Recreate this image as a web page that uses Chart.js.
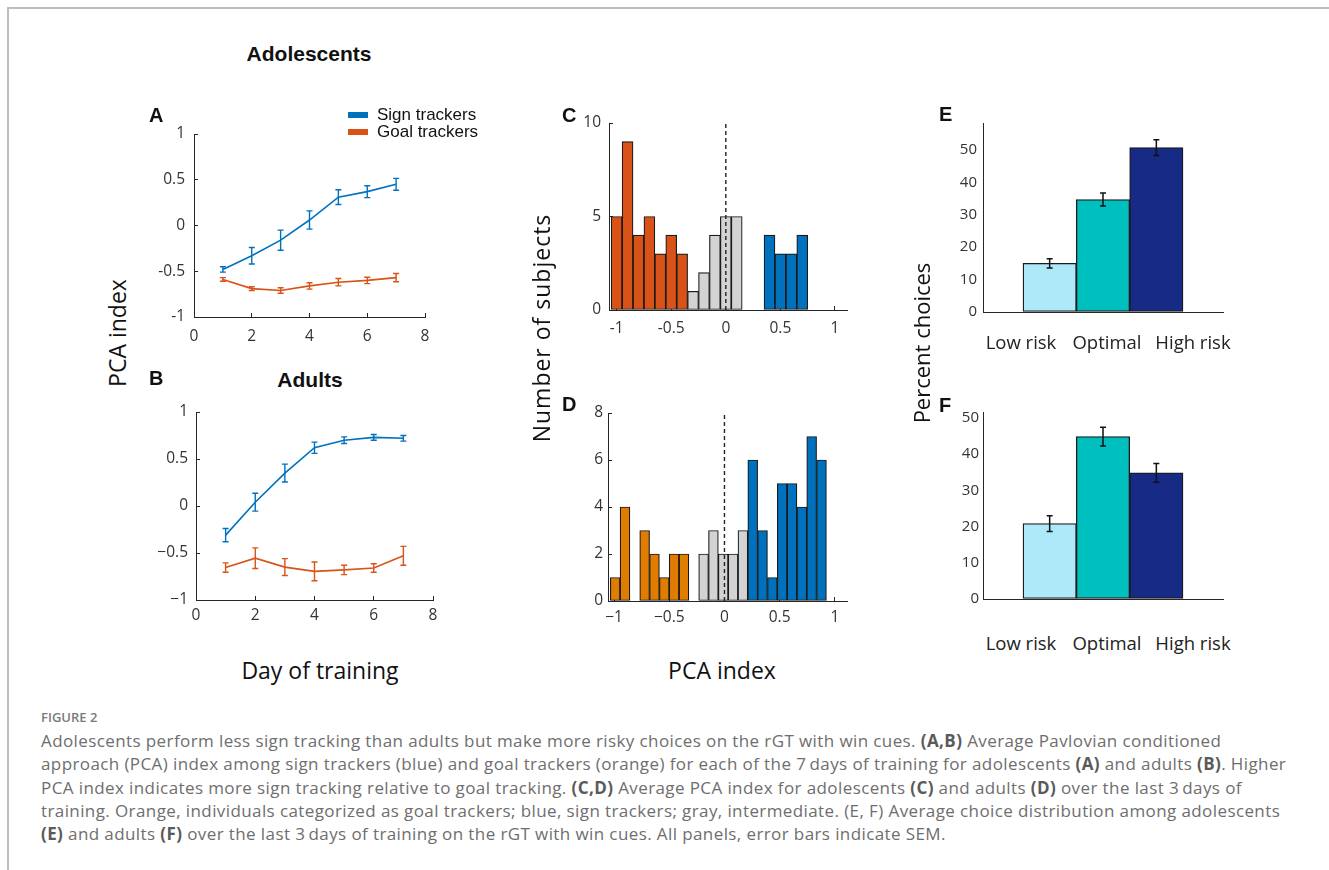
<!DOCTYPE html>
<html>
<head>
<meta charset="utf-8">
<script src="https://cdn.jsdelivr.net/npm/chart.js@4.4.1/dist/chart.umd.min.js"></script>
<style>
  html, body { margin: 0; padding: 0; background: #fff; }
  #page { position: relative; width: 1329px; height: 870px; overflow: hidden; }
  .frame { position: absolute; left: 7px; top: 7px; right: -2px; bottom: -2px; border-top: 2px solid #bdbdbd; border-left: 2px solid #bdbdbd; }
  .panel { position: absolute; }
  .t { position: absolute; white-space: nowrap; }
  .letter { font-family: 'Liberation Sans', Arial, sans-serif; font-weight: bold; font-size: 20px; color: #111; }
  .title { font-family: 'Liberation Sans', Arial, sans-serif; font-weight: bold; font-size: 21px; color: #111; transform: translate(-50%, -50%); }
  .axt { font-family: 'Open Sans', sans-serif; font-size: 23px; color: #111; transform: translate(-50%, -50%); }
  .axv { font-family: 'Open Sans', sans-serif; font-size: 23px; color: #111; transform: translate(-50%, -50%) rotate(-90deg); }
  .cat { font-family: 'Open Sans', sans-serif; font-size: 18.5px; color: #222; transform: translate(-50%, -50%); }
  .leg { font-family: 'Liberation Sans', Arial, sans-serif; font-size: 17px; color: #111; }
  .sw { position: absolute; width: 20px; height: 6px; }
  .cap { position: absolute; left: 41px; font-family: 'Open Sans', sans-serif; color: #6e6e6e; white-space: nowrap; }
  .cap b { color: #5a5a5a; }
  .line { font-size: 17px; letter-spacing: 0.4px; }
</style>
</head>
<body>
<div id="page">
  <div class="frame"></div>

  <div class="panel" style="left:140px;top:120px"><canvas id="chartA" width="295" height="227"></canvas></div>
  <div class="panel" style="left:140px;top:398px"><canvas id="chartB" width="303" height="232"></canvas></div>
  <div class="panel" style="left:560px;top:110px"><canvas id="chartC" width="297" height="230"></canvas></div>
  <div class="panel" style="left:560px;top:400px"><canvas id="chartD" width="297" height="231"></canvas></div>
  <div class="panel" style="left:930px;top:110px"><canvas id="chartE" width="303" height="222"></canvas></div>
  <div class="panel" style="left:930px;top:400px"><canvas id="chartF" width="303" height="219"></canvas></div>

  <div class="t title" style="left:309px;top:54px">Adolescents</div>
  <div class="t title" style="left:310px;top:380px">Adults</div>

  <div class="t letter" style="left:149px;top:104px">A</div>
  <div class="t letter" style="left:149px;top:367px">B</div>
  <div class="t letter" style="left:562px;top:104px">C</div>
  <div class="t letter" style="left:562px;top:393px">D</div>
  <div class="t letter" style="left:939px;top:103px">E</div>
  <div class="t letter" style="left:939px;top:394px">F</div>

  <div id="legend"></div>

  <div class="t axv" style="left:117px;top:333px">PCA index</div>
  <div class="t axt" style="left:320px;top:670px">Day of training</div>
  <div class="t axv" style="left:541px;top:328px;letter-spacing:1px">Number of subjects</div>
  <div class="t axt" style="left:722px;top:670px">PCA index</div>
  <div class="t axv" style="left:921px;top:343px;font-size:22px">Percent choices</div>

  <div id="catsE"></div>
  <div id="catsF"></div>

  <div class="cap" style="top:708px;font-size:13px;font-weight:600;color:#7a7a7a">FIGURE 2</div>
  <div class="cap line" style="top:729px">Adolescents perform less sign tracking than adults but make more risky choices on the rGT with win cues. <b>(A,B)</b> Average Pavlovian conditioned</div>
  <div class="cap line" style="top:752px">approach (PCA) index among sign trackers (blue) and goal trackers (orange) for each of the 7&thinsp;days of training for adolescents <b>(A)</b> and adults <b>(B)</b>. Higher</div>
  <div class="cap line" style="top:776px">PCA index indicates more sign tracking relative to goal tracking. <b>(C,D)</b> Average PCA index for adolescents <b>(C)</b> and adults <b>(D)</b> over the last 3&thinsp;days of</div>
  <div class="cap line" style="top:799px">training. Orange, individuals categorized as goal trackers; blue, sign trackers; gray, intermediate. (E, F) Average choice distribution among adolescents</div>
  <div class="cap line" style="top:822px"><b>(E)</b> and adults <b>(F)</b> over the last 3&thinsp;days of training on the rGT with win cues. All panels, error bars indicate SEM.</div>
</div>

<script>
// ---- data ----
const days = [1, 2, 3, 4, 5, 6, 7];
const seriesNames = ['Sign trackers', 'Goal trackers'];

const adolSign = [-0.48, -0.33, -0.16, 0.06, 0.31, 0.37, 0.45];
const adolSignErr = [0.03, 0.09, 0.11, 0.10, 0.08, 0.065, 0.065];
const adolGoal = [-0.59, -0.69, -0.71, -0.66, -0.62, -0.60, -0.57];
const adolGoalErr = [0.02, 0.02, 0.03, 0.035, 0.04, 0.035, 0.045];

const adultSign = [-0.31, 0.04, 0.35, 0.62, 0.70, 0.73, 0.72];
const adultSignErr = [0.07, 0.095, 0.095, 0.06, 0.035, 0.03, 0.03];
const adultGoal = [-0.655, -0.555, -0.65, -0.695, -0.68, -0.66, -0.53];
const adultGoalErr = [0.05, 0.11, 0.09, 0.10, 0.05, 0.045, 0.10];

// histograms of PCA index (bin centres, counts, group of each bin)
const adolBins = [-1.0, -0.9, -0.8, -0.7, -0.6, -0.5, -0.4, -0.3, -0.2, -0.1, 0.0, 0.1, 0.2, 0.3, 0.4, 0.5, 0.6, 0.7];
const adolCounts = [5, 9, 4, 5, 3, 4, 3, 1, 2, 4, 5, 5, 0, 0, 4, 3, 3, 4];
const adolGroups = ['goal', 'goal', 'goal', 'goal', 'goal', 'goal', 'goal', 'mid', 'mid', 'mid', 'mid', 'mid', 'mid', 'mid', 'sign', 'sign', 'sign', 'sign'];

const adultBins = [-0.99, -0.901, -0.812, -0.723, -0.634, -0.545, -0.456, -0.367, -0.278, -0.189, -0.1,
                   -0.011, 0.078, 0.167, 0.256, 0.345, 0.434, 0.523, 0.612, 0.701, 0.79, 0.879];
const adultCounts = [1, 4, 0, 3, 2, 1, 2, 2, 0, 2, 3, 2, 2, 3, 6, 3, 1, 5, 5, 4, 7, 6];
const adultGroups = ['goal', 'goal', 'goal', 'goal', 'goal', 'goal', 'goal', 'goal', 'mid', 'mid', 'mid',
                     'mid', 'mid', 'mid', 'sign', 'sign', 'sign', 'sign', 'sign', 'sign', 'sign', 'sign'];

const choiceCats = ['Low risk', 'Optimal', 'High risk'];
const choicePos = [1, 2, 3];
const adolChoice = [15.0, 34.7, 50.7];
const adolChoiceErr = [1.4, 2.0, 2.4];
const adultChoice = [20.8, 44.8, 34.8];
const adultChoiceErr = [2.2, 2.6, 2.6];

// tick labels
const dayTicks = [0, 2, 4, 6, 8];
const pcaTicks = [-1, -0.5, 0, 0.5, 1];
const adolCountTicks = [0, 5, 10];
const adultCountTicks = [0, 2, 4, 6, 8];
const pctTicks = [0, 10, 20, 30, 40, 50];

// ---- styles ----
const BLUE = '#0072BD';
const RED = '#D95319';
const ORANGE_D = '#E07D00';
const GRAY = '#D3D3D3';
const INK = '#262626';
const choiceColors = ['#AEE9F9', '#00BFBF', '#172A86'];
const TICKFONT = { family: "'Open Sans', sans-serif", size: 15.5 };

const hyphen = v => String(v);
const minus = v => String(v).replace('-', '\u2212');

// error bars drawn through the chart scales
const errorBars = {
  id: 'errorBars',
  afterDatasetsDraw(chart) {
    const ctx = chart.ctx;
    const xs = chart.scales.x, ys = chart.scales.y;
    chart.data.datasets.forEach(ds => {
      if (!ds.errors) return;
      ctx.save();
      ctx.strokeStyle = ds.errorColor || ds.borderColor;
      ctx.lineWidth = ds.errorWidth || 1.5;
      const c = ds.errorCap || 3;
      ds.data.forEach((pt, i) => {
        const x = xs.getPixelForValue(pt.x);
        const y1 = ys.getPixelForValue(pt.y + ds.errors[i]);
        const y2 = ys.getPixelForValue(pt.y - ds.errors[i]);
        ctx.beginPath();
        ctx.moveTo(x, y1); ctx.lineTo(x, y2);
        ctx.moveTo(x - c, y1); ctx.lineTo(x + c, y1);
        ctx.moveTo(x - c, y2); ctx.lineTo(x + c, y2);
        ctx.stroke();
      });
      ctx.restore();
    });
  }
};

function scale(o) {
  return {
    type: 'linear',
    min: o.min,
    max: o.max,
    offset: false,
    afterBuildTicks: s => { s.ticks = o.ticks.map(v => ({ value: v })); },
    afterFit: s => {
      if (o.width != null) s.width = o.width;
      if (o.height != null) s.height = o.height;
      // keep the plot box exactly where the layout puts it
      s.paddingTop = 0; s.paddingBottom = 0; s.paddingLeft = 0; s.paddingRight = 0;
    },
    border: { display: true, color: INK, width: 1 },
    grid: {
      display: true, drawOnChartArea: false, offset: false,
      drawTicks: o.tick !== 0, tickLength: o.tick == null ? -4 : o.tick, color: INK
    },
    ticks: {
      display: o.labels !== false,
      padding: o.pad,
      font: o.font || TICKFONT,
      color: '#333',
      autoSkip: false,
      maxRotation: 0,
      callback: v => (o.fmt || hyphen)(v)
    }
  };
}

function pts(xs, ys) {
  return xs.map((x, i) => ({ x: x, y: ys[i] }));
}

function lineChart(id, sign, signErr, goal, goalErr, fmt, geo) {
  const lineDs = (label, vals, errs, color) => ({
    label: label,
    data: pts(days, vals),
    errors: errs,
    borderColor: color,
    borderWidth: 1.6,
    pointRadius: 0,
    tension: 0,
    errorCap: 3,
    errorWidth: 1.4
  });
  return new Chart(document.getElementById(id), {
    type: 'line',
    data: {
      datasets: [
        lineDs(seriesNames[0], sign, signErr, BLUE),
        lineDs(seriesNames[1], goal, goalErr, RED)
      ]
    },
    options: {
      responsive: false,
      animation: false,
      layout: { padding: { top: geo.top, right: 10, left: 0, bottom: 0 } },
      plugins: { legend: { display: false }, tooltip: { enabled: false } },
      scales: {
        x: scale({ min: 0, max: 8, ticks: dayTicks, height: 30, pad: geo.xpad, fmt: fmt }),
        y: scale({ min: -1, max: 1, ticks: pcaTicks, width: geo.width, pad: geo.ypad, fmt: fmt })
      }
    },
    plugins: [errorBars]
  });
}

function histChart(id, bins, counts, groups, goalColor, ymax, yTicks, xmin, fmt, geo) {
  const groupColor = { goal: goalColor, mid: GRAY, sign: BLUE };
  return new Chart(document.getElementById(id), {
    type: 'bar',
    data: {
      datasets: [
        {
          type: 'line',
          data: [{ x: 0, y: 0 }, { x: 0, y: ymax }],
          borderColor: '#222',
          borderWidth: 1.4,
          borderDash: [4, 3],
          pointRadius: 0
        },
        {
          type: 'bar',
          data: pts(bins, counts),
          backgroundColor: groups.map(g => groupColor[g]),
          borderColor: '#1a1a1a',
          borderWidth: 1.2,
          borderSkipped: false,
          barPercentage: 1,
          categoryPercentage: 1
        }
      ]
    },
    options: {
      responsive: false,
      animation: false,
      layout: { padding: { top: 13, right: 10, left: 0, bottom: 0 } },
      plugins: { legend: { display: false }, tooltip: { enabled: false } },
      scales: {
        x: scale({ min: xmin, max: 1.11, ticks: pcaTicks, height: 30, pad: geo.xpad, fmt: fmt }),
        y: scale({ min: 0, max: ymax, ticks: yTicks, width: geo.width, pad: geo.ypad, fmt: fmt })
      }
    }
  });
}

function choiceChart(id, vals, errs, ymax, geo) {
  return new Chart(document.getElementById(id), {
    type: 'bar',
    data: {
      datasets: [{
        data: pts(choicePos, vals),
        errors: errs,
        errorColor: '#111',
        errorWidth: 1.5,
        errorCap: 3,
        backgroundColor: choiceColors,
        borderColor: '#1a1a1a',
        borderWidth: 1.3,
        borderSkipped: false,
        barPercentage: 1,
        categoryPercentage: 1
      }]
    },
    options: {
      responsive: false,
      animation: false,
      layout: { padding: { top: geo.top, right: 10, left: 0, bottom: 0 } },
      plugins: { legend: { display: false }, tooltip: { enabled: false } },
      scales: {
        x: scale({ min: -0.25, max: 4.25, ticks: choicePos, height: 20, tick: 0, labels: false }),
        y: scale({ min: 0, max: ymax, ticks: pctTicks, width: 53, pad: geo.ypad, tick: 0,
                   font: { family: "'Open Sans', sans-serif", size: 15 } })
      }
    },
    plugins: [errorBars]
  });
}

lineChart('chartA', adolSign, adolSignErr, adolGoal, adolGoalErr, hyphen, { top: 14, width: 54, xpad: 14, ypad: 13 });
lineChart('chartB', adultSign, adultSignErr, adultGoal, adultGoalErr, minus, { top: 14, width: 56, xpad: 10, ypad: 12 });
histChart('chartC', adolBins, adolCounts, adolGroups, RED, 10, adolCountTicks, -1.07, hyphen, { width: 49, xpad: 13, ypad: 12 });
histChart('chartD', adultBins, adultCounts, adultGroups, ORANGE_D, 8, adultCountTicks, -1.055, minus, { width: 48, xpad: 11, ypad: 9 });
choiceChart('chartE', adolChoice, adolChoiceErr, 58.3, { top: 13, ypad: 6 });
choiceChart('chartF', adultChoice, adultChoiceErr, 51.6, { top: 12, ypad: 4 });

// legend for panels A/B
const legend = document.getElementById('legend');
[BLUE, RED].forEach((c, i) => {
  const y = 112 + i * 17;
  legend.insertAdjacentHTML('beforeend',
    '<div class="sw" style="left:348px;top:' + y + 'px;background:' + c + '"></div>' +
    '<div class="t leg" style="left:377px;top:' + (y - 7) + 'px">' + seriesNames[i] + '</div>');
});

// category labels under panels E/F
const catX = [1021, 1107, 1193];
[['catsE', 341], ['catsF', 642]].forEach(([id, y]) => {
  const el = document.getElementById(id);
  choiceCats.forEach((name, i) => {
    el.insertAdjacentHTML('beforeend',
      '<div class="t cat" style="left:' + catX[i] + 'px;top:' + y + 'px">' + name + '</div>');
  });
});
</script>
</body>
</html>
